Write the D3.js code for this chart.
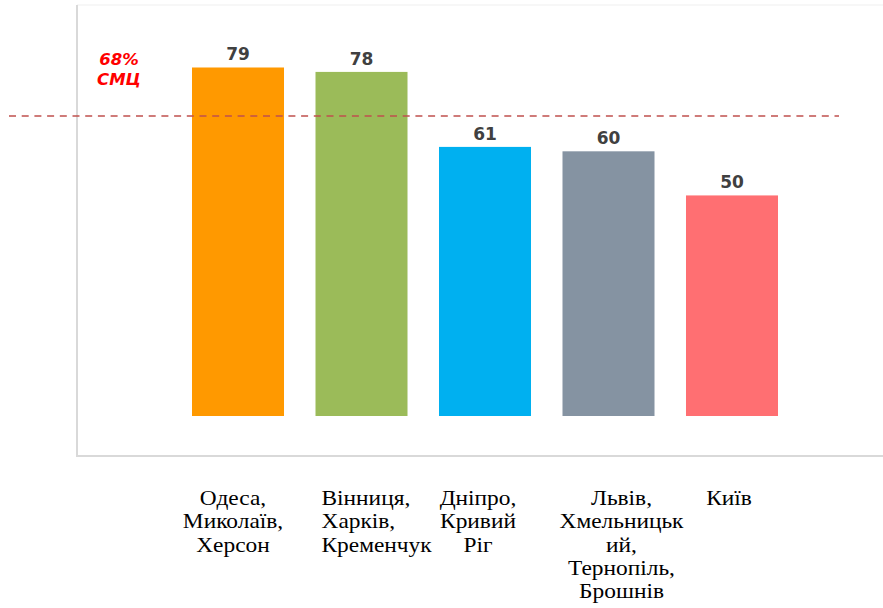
<!DOCTYPE html>
<html>
<head>
<meta charset="utf-8">
<script src="https://cdn.jsdelivr.net/npm/d3@7"></script>
<style>
  html, body { margin: 0; padding: 0; background: #ffffff; }
  svg { display: block; }
</style>
</head>
<body>
<svg id="chart" width="883" height="608"></svg>
<script>
// Regions (label lines as printed under each bar)
const categories = [
  ["Одеса,", "Миколаїв,", "Херсон"],
  ["Вінниця,", "Харків,", "Кременчук"],
  ["Дніпро,", "Кривий", "Ріг"],
  ["Львів,", "Хмельницьк", "ий,", "Тернопіль,", "Брошнів"],
  ["Київ"]
];
const values = [79, 78, 61, 60, 50];
const barColors = ["#ff9900", "#9bbb59", "#00b0f0", "#8593a2", "#ff6f72"];

// Reference threshold
const thresholdValue = 68;
const thresholdLabel = ["68%", "СМЦ"];

// Label placement under each bar (anchor + shift from band centre)
const labelLayout = [
  { anchor: "middle", dx: -5 },
  { anchor: "start",  dx: -40 },
  { anchor: "middle", dx: -7 },
  { anchor: "middle", dx: 13 },
  { anchor: "middle", dx: -3 }
];

const svg = d3.select("#chart");
const W = 883, H = 608;
const frame = { left: 77, top: 5, bottom: 456 };

const ids = categories.map((_, i) => i);
const x = d3.scaleBand()
  .domain(ids)
  .range([130.25, 839.75])
  .paddingInner(0.255)
  .paddingOuter(0.5);

const y = d3.scaleLinear()
  .domain([0, 94.3])
  .range([416, 0]);

// Plot-area frame
svg.append("line")
  .attr("x1", frame.left).attr("x2", W + 5)
  .attr("y1", frame.top).attr("y2", frame.top)
  .attr("stroke", "#efefef").attr("stroke-width", 1);
svg.append("line")
  .attr("x1", frame.left).attr("x2", frame.left)
  .attr("y1", frame.top).attr("y2", frame.bottom)
  .attr("stroke", "#d9d9d9").attr("stroke-width", 2);
svg.append("line")
  .attr("x1", frame.left - 1).attr("x2", W + 5)
  .attr("y1", frame.bottom).attr("y2", frame.bottom)
  .attr("stroke", "#d9d9d9").attr("stroke-width", 2);

// Bars
svg.append("g").selectAll("rect")
  .data(values)
  .join("rect")
  .attr("x", (d, i) => x(i))
  .attr("width", x.bandwidth())
  .attr("y", d => y(d))
  .attr("height", d => y(0) - y(d))
  .attr("fill", (d, i) => barColors[i]);

// Value labels
svg.append("g").selectAll("text")
  .data(values)
  .join("text")
  .attr("x", (d, i) => x(i) + x.bandwidth() / 2)
  .attr("y", d => y(d) - 7)
  .attr("text-anchor", "middle")
  .attr("font-family", "'DejaVu Sans', sans-serif")
  .attr("font-weight", "bold")
  .attr("font-size", 17)
  .attr("fill", "#404040")
  .text(d => d);

// Threshold line
svg.append("line")
  .attr("x1", 9).attr("x2", 839)
  .attr("y1", y(thresholdValue)).attr("y2", y(thresholdValue))
  .attr("stroke", "#c0504d")
  .attr("stroke-width", 1.4)
  .attr("stroke-dasharray", "7,5.7");

const thr = svg.append("text")
  .attr("font-family", "'DejaVu Sans', sans-serif")
  .attr("font-weight", "bold")
  .attr("font-style", "italic")
  .attr("font-size", 16.5)
  .attr("fill", "#ff0000")
  .attr("text-anchor", "middle");
thr.selectAll("tspan")
  .data(thresholdLabel)
  .join("tspan")
  .attr("x", 119)
  .attr("y", (d, i) => 65 + i * 20)
  .text(d => d);

// Category labels
const lineH = 23.3;
const firstBaseline = 505;
const stretch = 1.17;
const cat = svg.append("g").selectAll("g")
  .data(categories)
  .join("g")
  .attr("transform", (d, i) => {
    const cx = x(i) + x.bandwidth() / 2 + labelLayout[i].dx;
    return `translate(${cx},0) scale(${stretch},1)`;
  });
cat.append("text")
  .attr("font-family", "'Liberation Serif', 'Times New Roman', serif")
  .attr("font-size", 20)
  .attr("fill", "#000000")
  .attr("text-anchor", (d, i) => labelLayout[i].anchor)
  .selectAll("tspan")
  .data(d => d)
  .join("tspan")
  .attr("x", 0)
  .attr("y", (d, j) => firstBaseline + j * lineH)
  .text(d => d);
</script>
</body>
</html>
